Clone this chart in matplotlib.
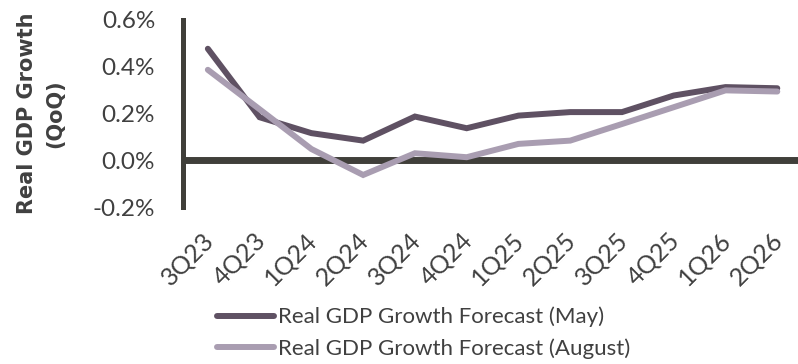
import matplotlib.pyplot as plt
from matplotlib.ticker import FuncFormatter
from matplotlib.transforms import ScaledTranslation

# Quarters and QoQ forecasts (%)
quarters = ['3Q23', '4Q23', '1Q24', '2Q24', '3Q24', '4Q24',
            '1Q25', '2Q25', '3Q25', '4Q25', '1Q26', '2Q26']
may_fc = [0.477, 0.184, 0.116, 0.084, 0.187, 0.137,
          0.191, 0.206, 0.206, 0.277, 0.313, 0.308]
aug_fc = [0.387, 0.218, 0.048, -0.063, 0.030, 0.013,
          0.070, 0.084, 0.155, 0.227, 0.299, 0.294]

plt.rcParams['font.family'] = ['Lato', 'DejaVu Sans']
txt = '#404040'
axis_col = '#403f3a'

fig = plt.figure(figsize=(7.98, 3.64), dpi=100)
ax = fig.add_axes([183 / 798, 1 - 207 / 364, 615 / 798, 187 / 364])

x = list(range(len(quarters)))
ax.plot(x, may_fc, color='#5f5163', lw=4.3, solid_capstyle='round',
        solid_joinstyle='miter', label='Real GDP Growth Forecast (May)', zorder=3)
ax.plot(x, aug_fc, color='#a99db1', lw=4.3, solid_capstyle='round',
        solid_joinstyle='miter', label='Real GDP Growth Forecast (August)', zorder=3)

ax.axhline(0, color=axis_col, lw=5, zorder=2)

ax.set_xlim(-0.48, 11.4)
ax.set_ylim(-0.2, 0.6)
ax.set_yticks([-0.2, 0.0, 0.2, 0.4, 0.6])
ax.yaxis.set_major_formatter(FuncFormatter(lambda v, p: f'{v:.1f}%'))
ax.set_xticks(x)
ax.set_xticklabels(quarters, rotation=45, ha='right', rotation_mode='anchor',
                   fontsize=18)

for s in ['top', 'right', 'bottom']:
    ax.spines[s].set_visible(False)
ax.spines['left'].set_color(axis_col)
ax.spines['left'].set_linewidth(3.6)
ax.tick_params(axis='both', length=0, colors=txt)
ax.tick_params(axis='y', labelsize=17.5, pad=20)
ax.tick_params(axis='x', pad=15)

# nudge the slanted labels left so their ends sit under the ticks
# (after tick_params, which resets label transforms)
shift = ScaledTranslation(-4.5 / 72, 0, fig.dpi_scale_trans)
for lab in ax.get_xticklabels():
    lab.set_transform(lab.get_transform() + shift)

ax.set_ylabel('Real GDP Growth\n(QoQ)', fontsize=15, fontweight='bold',
              family=['DejaVu Sans'], color=txt, linespacing=1.5, labelpad=20)

leg = fig.legend(loc='center left', bbox_to_anchor=(206 / 798, 1 - 333 / 364),
                 frameon=False, fontsize=16, handlelength=2.55, handletextpad=0.2,
                 labelspacing=0.5, borderpad=0)
for t in leg.get_texts():
    t.set_color(txt)

fig.savefig('out.png', dpi=100)
